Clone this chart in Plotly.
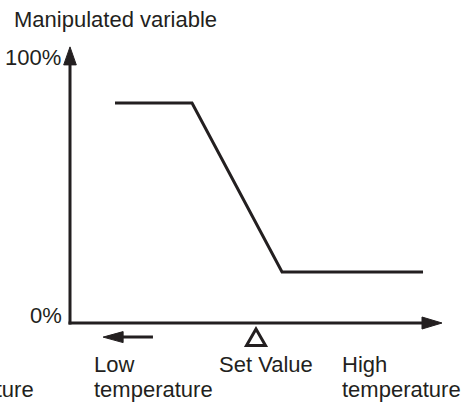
import plotly.graph_objects as go

# curve: relative temperature (% of axis length) vs manipulated variable (%)
temperature = [12.1, 32.8, 57.0, 94.9]
manipulated = [82.7, 82.7, 19.2, 19.2]
set_value = 50.0

ink = "#231f20"
font = dict(family="Liberation Sans, Arial, sans-serif", size=22, color=ink)

fig = go.Figure()
fig.add_trace(go.Scatter(x=temperature, y=manipulated, mode="lines",
                         line=dict(color=ink, width=3), hoverinfo="skip",
                         showlegend=False, cliponaxis=False))

shapes = []
# axes
shapes.append(dict(type="line", x0=0, x1=0, y0=-0.6, y1=97, line=dict(color=ink, width=3)))
shapes.append(dict(type="line", x0=-0.4, x1=95, y0=0, y1=0, line=dict(color=ink, width=3)))
# arrow heads (pixel sized, anchored in data coords)
head = dict(type="path", xsizemode="pixel", ysizemode="pixel", fillcolor=ink,
            line=dict(color=ink, width=1))
shapes.append(dict(head, xanchor=100, yanchor=0, path="M0,0 L-20,6 L-20,-6 Z"))
shapes.append(dict(head, xanchor=0, yanchor=103.8, path="M0,0 L-6.3,-18 L6.3,-18 Z"))
# "low temperature" direction arrow
shapes.append(dict(type="line", x0=12, x1=22.3, y0=-5.3, y1=-5.3, line=dict(color=ink, width=3)))
shapes.append(dict(head, xanchor=8.9, yanchor=-5.3, path="M0,0 L20,5.5 L20,-5.5 Z"))
# set value marker
shapes.append(dict(type="path", xsizemode="pixel", ysizemode="pixel", xanchor=set_value,
                   yanchor=0, path="M0,-6 L-9.5,-22.5 L9.5,-22.5 Z",
                   fillcolor="white", line=dict(color=ink, width=3)))

px_x = 3.72
px_y = 2.66


def ann(text, xp, yp, anchor):
    # xp, yp in pixels of the 465x404 canvas, converted to data coords
    return dict(text=text, x=(xp - 70) / px_x, y=(323 - yp) / px_y, xref="x", yref="y",
                showarrow=False, xanchor=anchor, yanchor="middle", font=font,
                borderpad=0, borderwidth=0)


annotations = [
    ann("Manipulated variable", 14, 19.4, "left"),
    ann("100%", 61, 57.4, "right"),
    ann("0%", 62, 315.7, "right"),
    ann("Low", 94, 364.4, "left"),
    ann("temperature", 94, 389, "left"),
    ann("Set Value", 219, 364.4, "left"),
    ann("High", 342, 364.4, "left"),
    ann("temperature", 342, 389, "left"),
    ann("temperature", 34, 389, "right"),
]

fig.update_layout(
    width=465, height=404,
    margin=dict(l=0, r=0, t=0, b=0),
    paper_bgcolor="white", plot_bgcolor="white",
    xaxis=dict(visible=False, range=[-70 / px_x, 395 / px_x], fixedrange=True),
    yaxis=dict(visible=False, range=[-81 / px_y, 323 / px_y], fixedrange=True),
    shapes=shapes,
    annotations=annotations,
)

fig.write_html("out.html", config={"displayModeBar": False},
               post_script="document.body.style.margin='0';")
